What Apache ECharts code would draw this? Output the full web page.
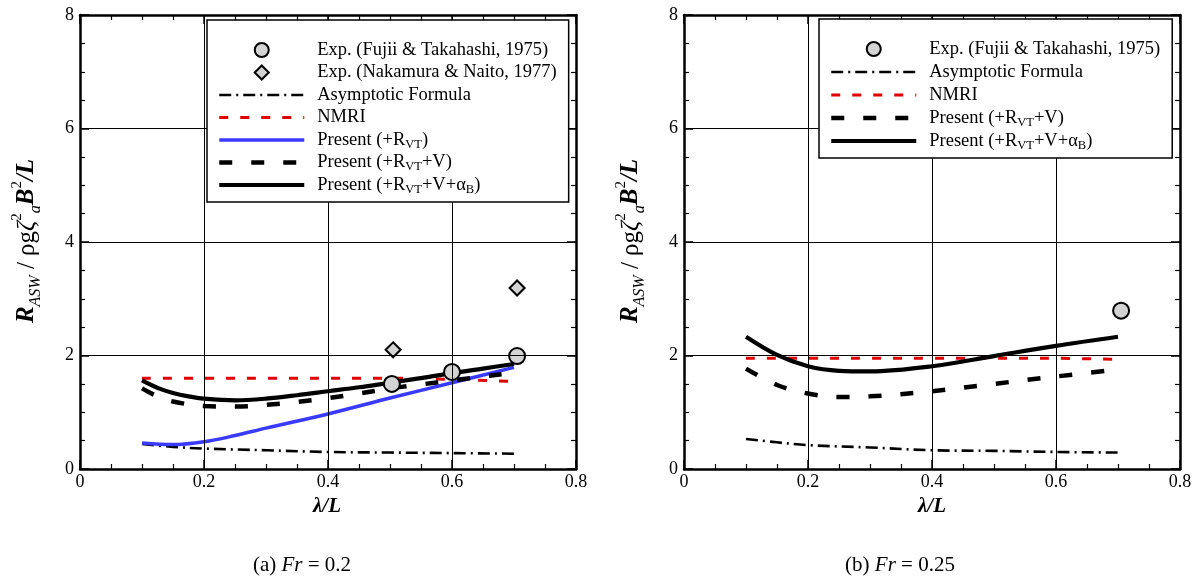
<!DOCTYPE html>
<html>
<head>
<meta charset="utf-8">
<script src="https://cdn.jsdelivr.net/npm/echarts@6/dist/echarts.min.js"></script>
<style>
html,body{margin:0;padding:0;background:#fff;}
#chart{width:1202px;height:578px;}
</style>
</head>
<body>
<div id="chart"></div>
<script>
// ---------- data ----------
const xTicks = [0, 0.2, 0.4, 0.6, 0.8];
const yTicks = [0, 2, 4, 6, 8];

// (a) Fr = 0.2
const aExpFujiiX = [0.503, 0.6, 0.705];
const aExpFujiiY = [1.50, 1.71, 1.99];
const aExpNakaX = [0.505, 0.705];
const aExpNakaY = [2.10, 3.19];
const aAsymX = [0.1, 0.15, 0.2, 0.3, 0.4, 0.5, 0.6, 0.7];
const aAsymY = [0.44, 0.39, 0.36, 0.33, 0.30, 0.29, 0.28, 0.27];
const aNmriX = [0.1, 0.2, 0.3, 0.4, 0.5, 0.6, 0.7];
const aNmriY = [1.60, 1.60, 1.60, 1.60, 1.60, 1.58, 1.54];
const aRvtX = [0.1, 0.15, 0.2, 0.25, 0.3, 0.4, 0.5, 0.6, 0.7];
const aRvtY = [0.46, 0.43, 0.48, 0.59, 0.72, 0.97, 1.25, 1.52, 1.79];
const aRvtVX = [0.1, 0.125, 0.15, 0.2, 0.25, 0.3, 0.35, 0.4, 0.45, 0.5, 0.55, 0.6, 0.68];
const aRvtVY = [1.42, 1.28, 1.19, 1.11, 1.10, 1.13, 1.18, 1.25, 1.33, 1.42, 1.49, 1.56, 1.67];
const aFullX = [0.1, 0.125, 0.15, 0.175, 0.2, 0.25, 0.3, 0.35, 0.4, 0.45, 0.5, 0.55, 0.6, 0.65, 0.7];
const aFullY = [1.56, 1.43, 1.34, 1.28, 1.24, 1.21, 1.24, 1.30, 1.37, 1.44, 1.52, 1.60, 1.69, 1.77, 1.85];

// (b) Fr = 0.25
const bExpFujiiX = [0.705];
const bExpFujiiY = [2.79];
const bAsymX = [0.1, 0.15, 0.2, 0.3, 0.4, 0.5, 0.6, 0.7];
const bAsymY = [0.53, 0.47, 0.42, 0.38, 0.33, 0.32, 0.30, 0.29];
const bNmriX = [0.1, 0.2, 0.3, 0.4, 0.5, 0.6, 0.7];
const bNmriY = [1.95, 1.95, 1.95, 1.95, 1.95, 1.95, 1.93];
const bRvtVX = [0.1, 0.15, 0.2, 0.25, 0.3, 0.4, 0.5, 0.6, 0.69];
const bRvtVY = [1.77, 1.48, 1.33, 1.27, 1.28, 1.37, 1.50, 1.63, 1.74];
const bFullX = [0.1, 0.15, 0.2, 0.25, 0.3, 0.4, 0.5, 0.6, 0.7];
const bFullY = [2.33, 2.01, 1.81, 1.73, 1.72, 1.81, 1.99, 2.17, 2.33];

const NAME_FUJII = 'Exp. (Fujii & Takahashi, 1975)';
const NAME_NAKA = 'Exp. (Nakamura & Naito, 1977)';
const NAME_ASYM = 'Asymptotic Formula';
const NAME_NMRI = 'NMRI';
const NAME_RVT = 'Present (+RVT)';
const NAME_RVTV = 'Present (+RVT+V)';
const NAME_FULL = 'Present (+RVT+V+αB)';

// ---------- helpers ----------
const FONT = 'Liberation Serif';
const pairs = (xs, ys) => xs.map((x, i) => [x, ys[i]]);

const styles = {};
styles[NAME_ASYM] = { color: '#000', width: 2.6, type: [12, 5, 2, 5] };
styles[NAME_NMRI] = { color: '#e00000', width: 3, type: [9, 12] };
styles[NAME_RVT]  = { color: '#3a3aff', width: 3.5, type: 'solid' };
styles[NAME_RVTV] = { color: '#000', width: 4.5, type: [13, 19] };
styles[NAME_FULL] = { color: '#000', width: 4.2, type: 'solid' };

function lineSeries(name, xs, ys, axis) {
  const st = styles[name];
  return {
    type: 'line', name: name, data: pairs(xs, ys),
    xAxisIndex: axis, yAxisIndex: axis,
    smooth: 0.35, symbol: 'none', showSymbol: false,
    itemStyle: { color: st.color },
    lineStyle: { color: st.color, width: st.width, type: st.type, cap: 'butt' },
    z: 2, silent: true
  };
}
function scatterSeries(name, xs, ys, sym, size, axis) {
  return {
    type: 'scatter', name: name, data: pairs(xs, ys),
    xAxisIndex: axis, yAxisIndex: axis,
    symbol: sym, symbolSize: size, symbolKeepAspect: true,
    itemStyle: { color: '#d3d3d3', borderColor: '#000', borderWidth: 2, opacity: 1 },
    z: 4, silent: true
  };
}

const gridPos = [
  { left: 80, top: 15, width: 496, height: 454 },
  { left: 684, top: 15, width: 496, height: 454 }
];

const tickLabel = { fontFamily: FONT, fontSize: 18, color: '#000' };
const axisLine = { show: true, onZero: false, lineStyle: { color: '#000', width: 2.5 } };

function xAxisDef(grid, pos, main) {
  return {
    type: 'value', gridIndex: grid, position: pos,
    min: xTicks[0], max: xTicks[xTicks.length - 1], interval: xTicks[1] - xTicks[0],
    axisLine: axisLine,
    axisTick: { show: true, inside: true, length: 9, lineStyle: { color: '#000', width: 1.5 } },
    minorTick: { show: true, splitNumber: 4, length: 5, lineStyle: { color: '#000', width: 1.2 } },
    axisLabel: main ? Object.assign({ show: true, margin: 4 }, tickLabel) : { show: false },
    splitLine: { show: main, lineStyle: { color: '#000', width: 1 } },
    z: 5
  };
}
function yAxisDef(grid, pos, main) {
  return {
    type: 'value', gridIndex: grid, position: pos,
    min: yTicks[0], max: yTicks[yTicks.length - 1], interval: yTicks[1] - yTicks[0],
    axisLine: axisLine,
    axisTick: { show: true, inside: true, length: 9, lineStyle: { color: '#000', width: 1.5 } },
    minorTick: { show: true, splitNumber: 4, length: 5, lineStyle: { color: '#000', width: 1.2 } },
    axisLabel: main ? Object.assign({ show: true, margin: 6 }, tickLabel) : { show: false },
    splitLine: { show: main, lineStyle: { color: '#000', width: 1 } },
    z: 5
  };
}

const legendRich = {
  sub: { fontFamily: FONT, fontSize: 12.5, color: '#000', verticalAlign: 'bottom' }
};
function legendFmt(n) {
  return n.replace('+RVT', '+R{sub|VT}').replace('αB', 'α{sub|B}');
}
function legendItem(n) {
  if (styles[n]) {
    return { name: n, itemStyle: { opacity: 0, color: 'transparent', borderWidth: 0 },
             lineStyle: { width: styles[n].width, color: styles[n].color, type: styles[n].type } };
  }
  if (n === NAME_NAKA) {
    return { name: n, icon: 'path://M0,-1L1,0L0,1L-1,0Z', symbolKeepAspect: true };
  }
  return { name: n, symbolKeepAspect: true };
}
function legendDef(left, top, gap, names) {
  return {
    orient: 'vertical', left: left, top: top,
    data: names.map(legendItem),
    itemWidth: 85, itemHeight: 14, itemGap: gap,
    symbolKeepAspect: true,
    padding: [19, 12, 6, 10],
    borderColor: '#000', borderWidth: 1.5, backgroundColor: '#fff',
    selectedMode: false,
    formatter: legendFmt,
    textStyle: { fontFamily: FONT, fontSize: 18.5, color: '#000', lineHeight: 22,
                 padding: [0, 0, 0, 8], rich: legendRich },
    z: 10
  };
}

const yTitleRich = {
  bi: { fontFamily: FONT, fontSize: 25, fontWeight: 'bold', fontStyle: 'italic', lineHeight: 34, fill: '#000' },
  r: { fontFamily: FONT, fontSize: 25, lineHeight: 34, fill: '#000' },
  i: { fontFamily: FONT, fontSize: 25, fontStyle: 'italic', lineHeight: 34, fill: '#000' },
  sub: { fontFamily: FONT, fontSize: 16, fontStyle: 'italic', verticalAlign: 'bottom', fill: '#000' },
  sup: { fontFamily: FONT, fontSize: 15, verticalAlign: 'top', fill: '#000' }
};
const yTitleText = '{bi|R}{sub|ASW}{r| / ρg}{i|ζ}{sup|2}{sub|a}{bi|B}{sup|2}{bi|/L}';

function textEl(x, y, text, rich, rot) {
  return {
    type: 'text', x: x, y: y, rotation: rot || 0, z: 20,
    style: { text: text, rich: rich, align: 'center', verticalAlign: 'middle',
             fontFamily: FONT, fontSize: 21, fill: '#000' }
  };
}
const capRich = {
  i: { fontFamily: FONT, fontSize: 21, fontStyle: 'italic', fill: '#000' },
  r: { fontFamily: FONT, fontSize: 21, fill: '#000' },
  bi: { fontFamily: FONT, fontSize: 21, fontWeight: 'bold', fontStyle: 'italic', fill: '#000' }
};

const option = {
  animation: false,
  backgroundColor: '#fff',
  textStyle: { fontFamily: FONT },
  grid: gridPos,
  xAxis: [xAxisDef(0, 'bottom', true), xAxisDef(0, 'top', false),
          xAxisDef(1, 'bottom', true), xAxisDef(1, 'top', false)],
  yAxis: [yAxisDef(0, 'left', true), yAxisDef(0, 'right', false),
          yAxisDef(1, 'left', true), yAxisDef(1, 'right', false)],
  legend: [
    legendDef(207, 20, 0.5, [NAME_FUJII, NAME_NAKA, NAME_ASYM, NAME_NMRI, NAME_RVT, NAME_RVTV, NAME_FULL]),
    legendDef(819, 19, 1, [NAME_FUJII, NAME_ASYM, NAME_NMRI, NAME_RVTV, NAME_FULL])
  ],
  series: [
    lineSeries(NAME_ASYM, aAsymX, aAsymY, 0),
    lineSeries(NAME_NMRI, aNmriX, aNmriY, 0),
    lineSeries(NAME_RVT, aRvtX, aRvtY, 0),
    lineSeries(NAME_RVTV, aRvtVX, aRvtVY, 0),
    lineSeries(NAME_FULL, aFullX, aFullY, 0),
    scatterSeries(NAME_FUJII, aExpFujiiX, aExpFujiiY, 'circle', 16, 0),
    scatterSeries(NAME_NAKA, aExpNakaX, aExpNakaY, 'diamond', 15, 0),
    lineSeries(NAME_ASYM, bAsymX, bAsymY, 2),
    lineSeries(NAME_NMRI, bNmriX, bNmriY, 2),
    lineSeries(NAME_RVTV, bRvtVX, bRvtVY, 2),
    lineSeries(NAME_FULL, bFullX, bFullY, 2),
    scatterSeries(NAME_FUJII, bExpFujiiX, bExpFujiiY, 'circle', 16, 2)
  ],
  graphic: [
    textEl(27, 241, yTitleText, yTitleRich, Math.PI / 2),
    textEl(631, 241, yTitleText, yTitleRich, Math.PI / 2),
    textEl(327, 507, '{bi|λ/L}', capRich),
    textEl(932, 507, '{bi|λ/L}', capRich),
    textEl(302, 565, '{r|(a) }{i|Fr}{r| = 0.2}', capRich),
    textEl(900, 565, '{r|(b) }{i|Fr}{r| = 0.25}', capRich)
  ]
};

const chart = echarts.init(document.getElementById('chart'), null, { renderer: 'canvas' });
chart.setOption(option);
</script>
</body>
</html>
